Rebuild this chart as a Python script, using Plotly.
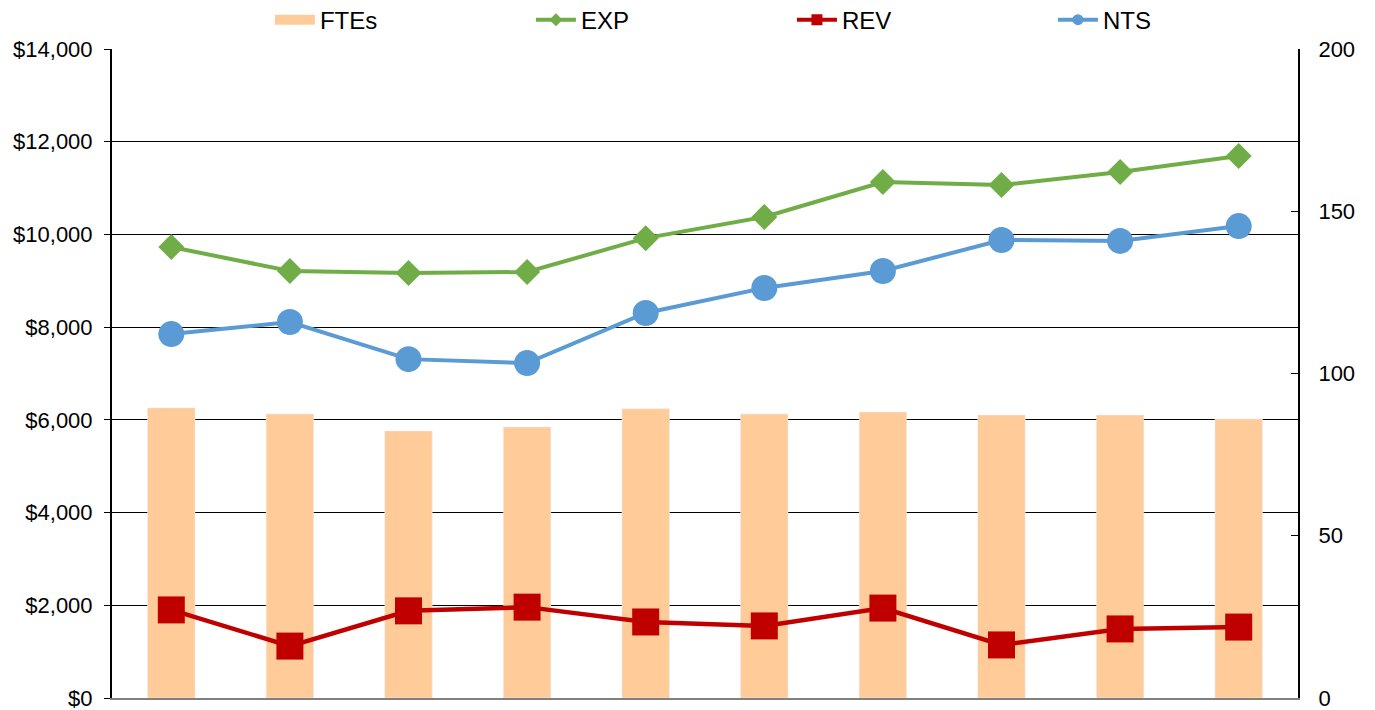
import plotly.graph_objects as go

categories = ["1", "2", "3", "4", "5", "6", "7", "8", "9", "10"]
ftes = [89.4, 87.5, 82.3, 83.5, 89.1, 87.5, 88.1, 87.2, 87.2, 86.0]
exp_vals = [9730, 9210, 9170, 9190, 9920, 10375, 11130, 11065, 11345, 11690]
rev_vals = [1900, 1120, 1880, 1960, 1640, 1555, 1940, 1145, 1490, 1530]
nts_vals = [7850, 8110, 7310, 7225, 8305, 8845, 9210, 9880, 9860, 10180]
left_ticks = [0, 2000, 4000, 6000, 8000, 10000, 12000, 14000]
left_labels = ["$0", "$2,000", "$4,000", "$6,000", "$8,000", "$10,000", "$12,000", "$14,000"]
right_ticks = [0, 50, 100, 150, 200]

BAR_COLOR = "#FFCC99"
EXP_COLOR = "#70AD47"
REV_COLOR = "#C00000"
NTS_COLOR = "#5B9BD5"

fig = go.Figure()
fig.add_trace(go.Bar(x=categories, y=ftes, name="FTEs", marker_color=BAR_COLOR,
                     width=0.4, yaxis="y", showlegend=False))
fig.add_trace(go.Scatter(x=categories, y=exp_vals, name="EXP", mode="lines+markers",
                         line=dict(color=EXP_COLOR, width=4), yaxis="y2", showlegend=False,
                         marker=dict(symbol="diamond", size=20, color=EXP_COLOR)))
fig.add_trace(go.Scatter(x=categories, y=rev_vals, name="REV", mode="lines+markers",
                         line=dict(color=REV_COLOR, width=4.5), yaxis="y2", showlegend=False,
                         marker=dict(symbol="square", size=27, color=REV_COLOR)))
fig.add_trace(go.Scatter(x=categories, y=nts_vals, name="NTS", mode="lines+markers",
                         line=dict(color=NTS_COLOR, width=4), yaxis="y2", showlegend=False,
                         marker=dict(symbol="circle", size=26, color=NTS_COLOR)))

# legend entries (smaller symbols, like the reference legend)
fig.add_trace(go.Scatter(x=[None], y=[None], name="FTEs", mode="lines",
                         line=dict(color=BAR_COLOR, width=12), yaxis="y2"))
fig.add_trace(go.Scatter(x=[None], y=[None], name="EXP", mode="lines+markers",
                         line=dict(color=EXP_COLOR, width=4), yaxis="y2",
                         marker=dict(symbol="diamond", size=10, color=EXP_COLOR)))
fig.add_trace(go.Scatter(x=[None], y=[None], name="REV", mode="lines+markers",
                         line=dict(color=REV_COLOR, width=4), yaxis="y2",
                         marker=dict(symbol="square", size=11, color=REV_COLOR)))
fig.add_trace(go.Scatter(x=[None], y=[None], name="NTS", mode="lines+markers",
                         line=dict(color=NTS_COLOR, width=4), yaxis="y2",
                         marker=dict(symbol="circle", size=11, color=NTS_COLOR)))

fig.update_layout(
    width=1375, height=710,
    margin=dict(l=104, r=85, t=41, b=20, autoexpand=False),
    paper_bgcolor="white", plot_bgcolor="white",
    font=dict(family="Liberation Sans, Arial, sans-serif", size=22, color="#000000"),
    showlegend=True,
    legend=dict(orientation="h", xref="container", yref="container",
                x=0.1905, xanchor="left", y=0.983, yanchor="middle",
                entrywidth=206, entrywidthmode="pixels", traceorder="normal",
                font=dict(size=24), itemwidth=40, tracegroupgap=0,
                bgcolor="rgba(0,0,0,0)"),
    xaxis=dict(type="category", showticklabels=False, showgrid=False,
               showline=True, linecolor="#808080", linewidth=2, ticks="",
               range=[-0.5, 9.5], zeroline=False),
    yaxis=dict(range=[0, 200], tickvals=right_ticks, side="right",
               showgrid=False, showline=True, linecolor="#000000", linewidth=2,
               ticks="inside", ticklen=7, tickcolor="#000000", zeroline=False,
               ticklabelstandoff=14),
    yaxis2=dict(range=[0, 14000], tickvals=left_ticks, ticktext=left_labels,
                overlaying="y", side="left",
                showgrid=True, gridcolor="#000000", gridwidth=1.2,
                showline=True, linecolor="#000000", linewidth=2,
                ticks="outside", ticklen=6, tickcolor="#000000", zeroline=False,
                ticklabelstandoff=7),
)

fig.write_html("out.html")
